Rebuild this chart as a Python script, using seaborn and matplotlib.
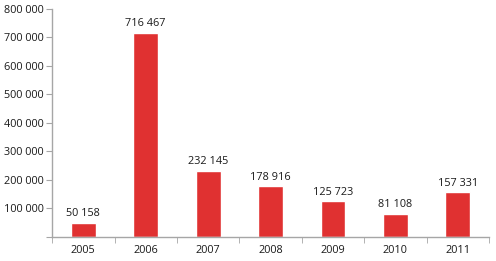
import matplotlib
matplotlib.use("Agg")
import matplotlib.pyplot as plt
import seaborn as sns
import pandas as pd
from matplotlib.ticker import FixedLocator, FuncFormatter

years = ["2005", "2006", "2007", "2008", "2009", "2010", "2011"]
values = [50158, 716467, 232145, 178916, 125723, 81108, 157331]

df = pd.DataFrame({"year": years, "value": values})

sns.set_style("white")
plt.rcParams["font.family"] = ["Open Sans", "DejaVu Sans"]

fig = plt.figure(figsize=(4.96, 2.61), dpi=100)
ax = fig.add_axes([0.105, 0.092, 0.881, 0.874])

sns.barplot(data=df, x="year", y="value", color="#E03131", saturation=1, width=0.40, ax=ax)

def fmt(v):
    return f"{int(v):,}".replace(",", " ")

for i, v in enumerate(values):
    ax.text(i, v + 12000, fmt(v), ha="center", va="bottom", fontsize=7.8, color="#1a1a1a")

ax.set_ylim(0, 800000)
ax.set_xlim(-0.5, len(years) - 0.5)
ax.yaxis.set_major_locator(FixedLocator(list(range(0, 800001, 100000))))
ax.yaxis.set_major_formatter(FuncFormatter(lambda v, p: "" if v == 0 else fmt(v)))
ax.set_xlabel("")
ax.set_ylabel("")

for s in ["top", "right"]:
    ax.spines[s].set_visible(False)
for s in ["left", "bottom"]:
    ax.spines[s].set_color("#a6a6a6")
    ax.spines[s].set_linewidth(1.0)

ax.tick_params(axis="y", which="major", direction="out", length=4, color="#a6a6a6", labelsize=7.8, labelcolor="#1a1a1a", left=True, pad=2)
ax.tick_params(axis="x", which="major", length=0, labelsize=7.8, labelcolor="#1a1a1a", pad=6)
ax.set_xticks(range(len(years)))
ax.set_xticks([i + 0.5 for i in range(-1, len(years))], minor=True)
ax.tick_params(axis="x", which="minor", direction="out", length=4, color="#a6a6a6", bottom=True)

fig.savefig("out.png", dpi=100)
